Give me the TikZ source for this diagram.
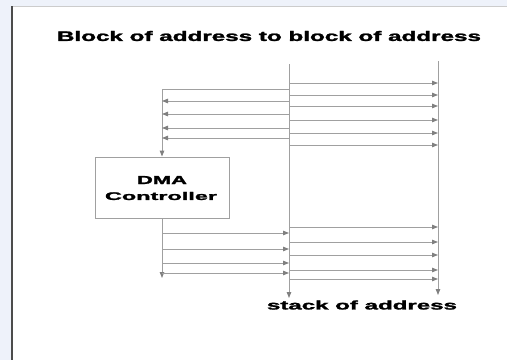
\documentclass[tikz,border=0pt]{standalone}
\usepackage{fontspec}
\setmainfont{Liberation Sans}[BoldFeatures={FakeBold=1.6}]
\usetikzlibrary{arrows.meta}
\definecolor{wire}{HTML}{A0A0A0}
\definecolor{tip}{HTML}{808080}
\definecolor{strip}{HTML}{EEF2FA}
\tikzset{
  wireline/.style={draw=wire, line width=0.9pt},
  arr/.style={wireline, -{Triangle[length=6pt,width=4.5pt,color=tip]}},
  boxstyle/.style={draw=wire, line width=0.9pt, fill=white, minimum width=134pt, minimum height=61pt, inner sep=0pt, align=center},
  lbl/.style={inner sep=0pt, font=\bfseries}
}
\begin{document}
\begin{tikzpicture}[x=1pt,y=-1pt]
\useasboundingbox (0,0) rectangle (507,360);
\fill[white] (0,0) rectangle (507,360);
% frame
\fill[strip] (0,0) rectangle (507,6);
\fill[strip] (0,0) rectangle (11,360);
\draw[draw=gray!40, line width=0.8pt] (11,6.5) -- (507,6.5);
\draw[draw=black!70, line width=1.6pt] (11.8,6) -- (11.8,360);
% title
\node[lbl] (title) at (269,36) {\resizebox{424pt}{10pt}{Block of address to block of address}};
% vertical lines
\coordinate (l1top) at (289,64);
\coordinate (l1bot) at (289,298);
\coordinate (l2top) at (438,61);
\coordinate (l2bot) at (438,295);
\draw[arr] (l1top) -- (l1bot);
\draw[arr] (l2top) -- (l2bot);
% DMA box
\node[boxstyle] (dma) at (162,187.5) {};
\node[lbl] (dmat) at (162,180) {\resizebox{50pt}{8pt}{DMA}};
\node[lbl] (ctrl) at (161,196) {\resizebox{112pt}{8pt}{Controller}};
% upper right arrows
\foreach \y in {83,95,106,120,133,145}
  \draw[arr] (l1top |- 0,\y) -- (l2top |- 0,\y);
% top path into DMA box
\draw[arr] (l1top |- 0,89) -| (dma.north);
% upper left arrows
\foreach \y in {101,114,128,138}
  \draw[arr] (l1top |- 0,\y) -- (dma.north |- 0,\y);
% below box
\coordinate (dmaend) at (162,278);
\draw[arr] (dma.south) -- (dmaend);
\foreach \y in {233,249,263,273}
  \draw[arr] (dma.south |- 0,\y) -- (l1top |- 0,\y);
% lower right arrows
\foreach \y in {227,242,255,270,279}
  \draw[arr] (l1top |- 0,\y) -- (l2top |- 0,\y);
% bottom label
\node[lbl] (stack) at (362,305) {\resizebox{190pt}{9pt}{stack of address}};
\end{tikzpicture}
\end{document}
